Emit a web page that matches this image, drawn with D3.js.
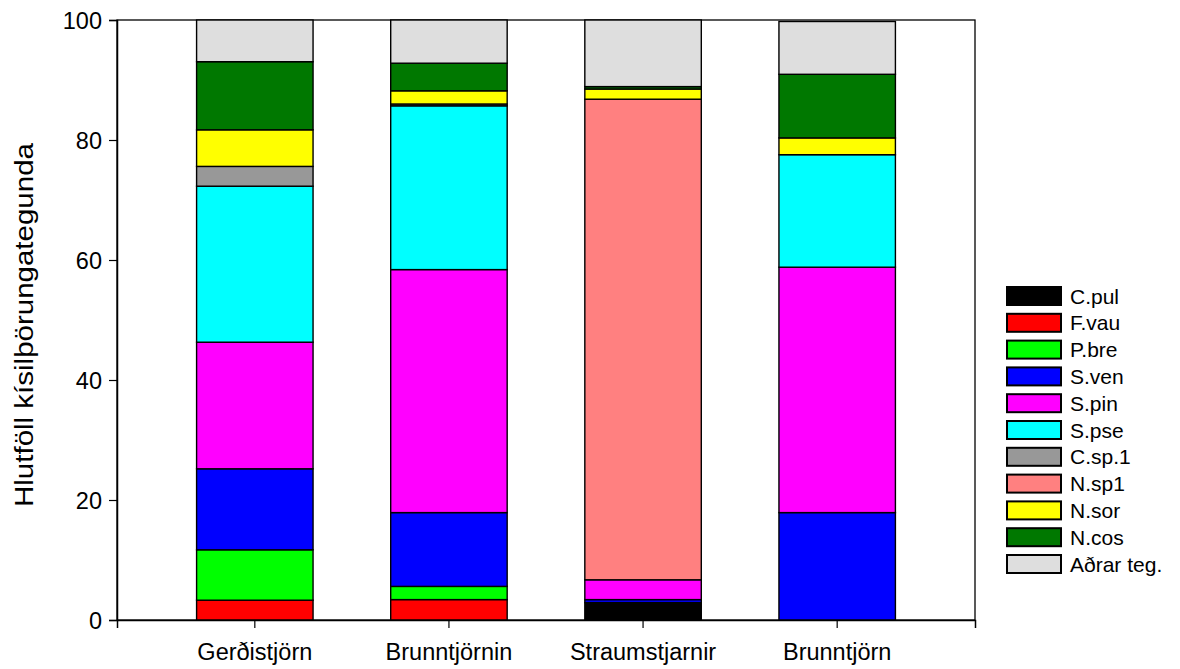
<!DOCTYPE html>
<html>
<head>
<meta charset="utf-8">
<script src="https://cdn.jsdelivr.net/npm/d3@7"></script>
<style>
  html, body { margin: 0; padding: 0; background: #fff; }
  svg { display: block; }
  text { font-family: "Liberation Sans", Arial, sans-serif; fill: #000; }
</style>
</head>
<body>
<svg id="chart" width="1180" height="669"></svg>
<script>
// Sampling sites (x categories)
const sites = ["Gerðistjörn", "Brunntjörnin", "Straumstjarnir", "Brunntjörn"];

// Diatom taxa, bottom to top of each stack
const species = ["C.pul", "F.vau", "P.bre", "S.ven", "S.pin", "S.pse", "C.sp.1", "N.sp1", "N.sor", "N.cos", "Aðrar teg."];
const speciesColors = ["#000000", "#ff0000", "#00ff00", "#0000ff", "#ff00ff", "#00ffff", "#989898", "#ff8080", "#ffff00", "#007800", "#dedede"];

// Relative abundance (%) of each taxon per site, same order as species
const gerdistjorn    = [0,   3.3, 8.4, 13.5, 21.1, 26.0,  3.3, 0,    6.1, 11.35, 6.95];
const brunntjornin   = [0,   3.4, 2.2, 12.3, 40.5, 27.3,  0.3, 0,    2.2,  4.6,  7.2];
const straumstjarnir = [2.9, 0,   0,    0.5,  3.3,  0,    0,   80.1, 1.7,  0.4, 11.1];
const brunntjorn     = [0,   0,   0,   17.9, 40.9, 18.75, 0,   0,    2.8, 10.6,  8.8];

const yTicks = [0, 20, 40, 60, 80, 100];

const siteValues = [gerdistjorn, brunntjornin, straumstjarnir, brunntjorn];
const rows = sites.map((s, i) => {
  const r = { site: s };
  species.forEach((sp, j) => { r[sp] = siteValues[i][j]; });
  return r;
});

const svg = d3.select("#chart");
const plotLeft = 117, plotRight = 975, plotTop = 20, plotBottom = 620;

const x = d3.scaleBand().domain(sites).range([plotLeft, plotRight])
  .paddingInner(0.4).paddingOuter(0.41);
const y = d3.scaleLinear().domain([0, 100]).range([plotBottom, plotTop]);
const color = d3.scaleOrdinal().domain(species).range(speciesColors);

const stacked = d3.stack().keys(species)(rows);

// Frame around the plotting area
svg.append("rect")
  .attr("x", plotLeft).attr("y", plotTop)
  .attr("width", plotRight - plotLeft).attr("height", plotBottom - plotTop)
  .attr("fill", "none").attr("stroke", "#000").attr("stroke-width", 1.3);

// Stacked bars
svg.append("g").selectAll("g")
  .data(stacked)
  .join("g")
  .attr("fill", d => color(d.key))
  .selectAll("rect")
  .data(d => d.filter(p => p[1] - p[0] > 0))
  .join("rect")
  .attr("x", d => x(d.data.site))
  .attr("y", d => y(d[1]))
  .attr("width", x.bandwidth())
  .attr("height", d => y(d[0]) - y(d[1]))
  .attr("stroke", "#000")
  .attr("stroke-width", 1.4);

// Y axis
const yAxis = svg.append("g")
  .attr("transform", `translate(${plotLeft},0)`)
  .call(d3.axisLeft(y).tickValues(yTicks).tickSize(8).tickPadding(7).tickFormat(d3.format("d")));
yAxis.select(".domain").attr("stroke", "#000").attr("stroke-width", 1.5);
yAxis.selectAll(".tick line").attr("stroke", "#000").attr("stroke-width", 1.2);
yAxis.selectAll(".tick text").attr("font-size", 23.5).attr("font-family", "Liberation Sans, Arial, sans-serif").attr("dy", "0.36em");

// X axis
const xAxis = svg.append("g")
  .attr("transform", `translate(0,${plotBottom})`)
  .call(d3.axisBottom(x).tickSize(8).tickPadding(15));
xAxis.select(".domain").attr("stroke", "#000").attr("stroke-width", 1.5);
xAxis.selectAll(".tick line").attr("stroke", "#000").attr("stroke-width", 1.2);
xAxis.selectAll(".tick text").attr("font-size", 23.5).attr("font-family", "Liberation Sans, Arial, sans-serif");

// Y axis title
svg.append("text")
  .attr("transform", `translate(33,${(plotTop + plotBottom) / 2 + 5}) rotate(-90)`)
  .attr("text-anchor", "middle")
  .attr("font-size", 25)
  .attr("textLength", 364)
  .attr("lengthAdjust", "spacingAndGlyphs")
  .text("Hlutföll kísilþörungategunda");

// Legend
const legend = svg.append("g").attr("transform", "translate(1007,287)");
const item = legend.selectAll("g")
  .data(species)
  .join("g")
  .attr("transform", (d, i) => `translate(0,${i * 26.8})`);
item.append("rect")
  .attr("width", 54).attr("height", 18)
  .attr("fill", d => color(d))
  .attr("stroke", "#000").attr("stroke-width", 2);
item.append("text")
  .attr("x", 63).attr("y", 16.5)
  .attr("font-size", 21)
  .text(d => d);
</script>
</body>
</html>
